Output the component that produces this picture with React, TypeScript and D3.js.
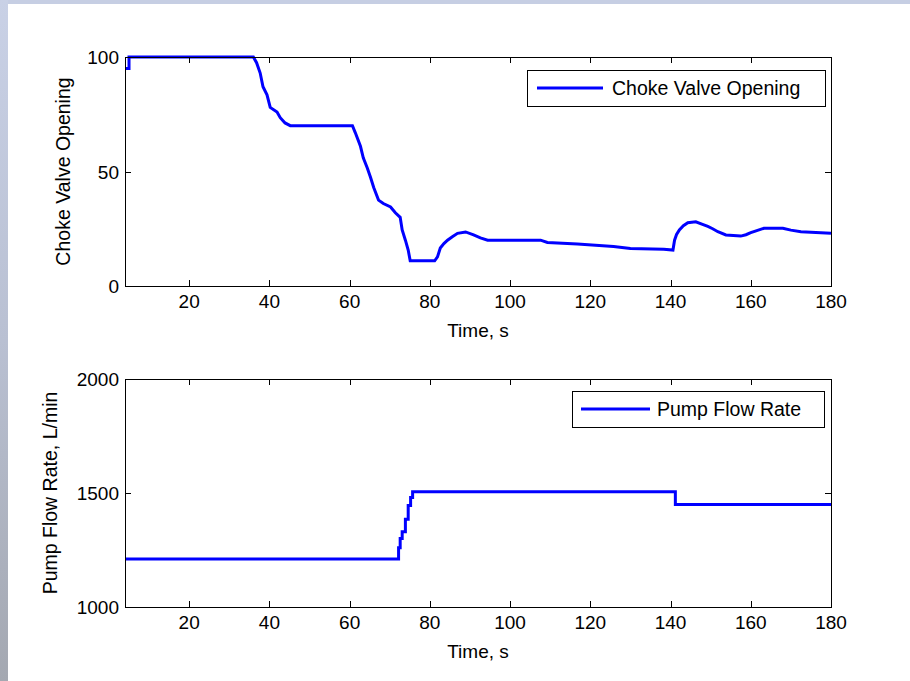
import React from "react";
import * as d3 from "d3";

// ---- Data ----
const chokeTime = [4, 5, 5, 36, 36.8, 37.7, 38.4, 39.4, 40.2, 41.9, 42.7, 43.9, 45.2, 60.7, 61.4, 62.7, 63.4, 64.4, 65.2, 66, 67.2, 68.4, 70.2, 71.4, 72.6, 73.1, 73.9, 74.6, 75.1, 81.2, 81.9, 82.6, 83.5, 84.4, 85.6, 86.9, 88.9, 90.9, 92.6, 94.4, 107.6, 109.3, 116.8, 125.8, 130, 138.3, 140.6, 141.0, 141.5, 142.2, 143.2, 144.3, 146.3, 147.8, 149.3, 150.5, 151.8, 153.8, 157.5, 158.8, 160, 161.5, 163.3, 168, 170, 172.5, 180];
const chokeValue = [95, 95, 100, 100, 97.5, 93, 87, 83.5, 78, 76, 73.5, 71.2, 70, 70, 67, 61, 56, 51.5, 47.5, 43, 37.5, 36, 34.5, 32, 30, 24.5, 20, 15.7, 11, 11, 12.7, 16.6, 18.5, 20, 21.5, 23, 23.6, 22.3, 21, 20, 20, 19, 18.3, 17.2, 16.4, 16, 15.7, 20, 22.5, 24.5, 26.3, 27.6, 28, 27, 26, 25, 23.7, 22.3, 21.8, 22.4, 23.3, 24.2, 25.2, 25.2, 24.4, 23.7, 23];

const pumpTime = [4, 72.2, 72.6, 73.1, 73.9, 74.6, 75.2, 75.7, 140.8, 141.2, 180];
const pumpValue = [1210, 1260, 1300, 1330, 1385, 1445, 1480, 1505, 1505, 1450, 1450];

const xTicks = [20, 40, 60, 80, 100, 120, 140, 160, 180];
const chokeTicks = [0, 50, 100];
const pumpTicks = [1000, 1500, 2000];

const xLabel = "Time, s";
const chokeLabel = "Choke Valve Opening";
const pumpLabel = "Pump Flow Rate, L/min";

const FONT = "'Liberation Sans', Arial, Helvetica, sans-serif";
const BLUE = "#0000ff";

type PanelProps = {
  top: number;
  bottom: number;
  times: number[];
  values: number[];
  stepped: boolean;
  yDomain: [number, number];
  yTicks: number[];
  yLabel: string;
  yLabelX: number;
  legend: string;
  legendBox: { x0: number; x1: number; y0: number; y1: number; lx0: number; lx1: number; tx: number };
};

const LEFT = 125;
const RIGHT = 831;

function Panel(p: PanelProps) {
  const x = d3.scaleLinear().domain([4, 180]).range([LEFT, RIGHT]);
  const y = d3.scaleLinear().domain(p.yDomain).range([p.bottom, p.top]);
  const pts: [number, number][] = p.times.map((t, i) => [t, p.values[i]]);
  const line = d3
    .line<[number, number]>()
    .x((d) => x(d[0]))
    .y((d) => y(d[1]))
    .curve(p.stepped ? d3.curveStepAfter : d3.curveLinear);
  const tl = 6;
  const lb = p.legendBox;
  const ly = (lb.y0 + lb.y1) / 2;
  return (
    <g>
      <rect x={LEFT} y={p.top} width={RIGHT - LEFT} height={p.bottom - p.top} fill="#fff" stroke="none" />
      <clipPath id={"clip" + p.top}>
        <rect x={LEFT} y={p.top - 3} width={RIGHT - LEFT} height={p.bottom - p.top + 6} />
      </clipPath>
      <path d={line(pts) || ""} fill="none" stroke={BLUE} strokeWidth={3} strokeLinejoin="miter" clipPath={`url(#clip${p.top})`} />
      <rect x={LEFT + 0.5} y={p.top + 0.5} width={RIGHT - LEFT} height={p.bottom - p.top} fill="none" stroke="#000" strokeWidth={1} />
      {xTicks.map((t) => (
        <g key={"x" + t}>
          <line x1={Math.round(x(t)) + 0.5} x2={Math.round(x(t)) + 0.5} y1={p.bottom} y2={p.bottom - tl} stroke="#000" />
          <line x1={Math.round(x(t)) + 0.5} x2={Math.round(x(t)) + 0.5} y1={p.top} y2={p.top + tl} stroke="#000" />
          <text x={x(t)} y={p.bottom + 22} textAnchor="middle" fontSize={19} fontFamily={FONT} fill="#000">
            {t}
          </text>
        </g>
      ))}
      {p.yTicks.map((v) => (
        <g key={"y" + v}>
          <line x1={LEFT} x2={LEFT + tl} y1={Math.round(y(v)) + 0.5} y2={Math.round(y(v)) + 0.5} stroke="#000" />
          <line x1={RIGHT} x2={RIGHT - tl} y1={Math.round(y(v)) + 0.5} y2={Math.round(y(v)) + 0.5} stroke="#000" />
          <text x={LEFT - 6} y={y(v) + 7} textAnchor="end" fontSize={19} fontFamily={FONT} fill="#000">
            {v}
          </text>
        </g>
      ))}
      <text x={(LEFT + RIGHT) / 2} y={p.bottom + 51} textAnchor="middle" fontSize={19} fontFamily={FONT} fill="#000">
        {xLabel}
      </text>
      <text
        transform={`translate(${p.yLabelX},${(p.top + p.bottom) / 2}) rotate(-90)`}
        textAnchor="middle"
        fontSize={19.5}
        fontFamily={FONT}
        fill="#000"
      >
        {p.yLabel}
      </text>
      <rect x={lb.x0 + 0.5} y={lb.y0 + 0.5} width={lb.x1 - lb.x0} height={lb.y1 - lb.y0} fill="#fff" stroke="#000" strokeWidth={1} />
      <line x1={lb.lx0} x2={lb.lx1} y1={ly} y2={ly} stroke={BLUE} strokeWidth={3} />
      <text x={lb.tx} y={ly + 7} fontSize={19.5} fontFamily={FONT} fill="#000">
        {p.legend}
      </text>
    </g>
  );
}

export default function App() {
  return (
    <svg width={910} height={681} style={{ position: "absolute", left: 0, top: 0 }}>
      <defs>
        <linearGradient id="leftband" x1="0" y1="0" x2="0" y2="1">
          <stop offset="0" stopColor="#c9d1e6" />
          <stop offset="0.5" stopColor="#b9c0d2" />
          <stop offset="1" stopColor="#a4a8b1" />
        </linearGradient>
      </defs>
      <rect x={0} y={0} width={910} height={681} fill="#ffffff" />
      <rect x={0} y={0} width={910} height={4} fill="#c6cee3" />
      <rect x={0} y={0} width={8} height={681} fill="url(#leftband)" />
      <Panel
        top={57}
        bottom={286}
        times={chokeTime}
        values={chokeValue}
        stepped={false}
        yDomain={[0, 100]}
        yTicks={chokeTicks}
        yLabel={chokeLabel}
        yLabelX={70}
        legend="Choke Valve Opening"
        legendBox={{ x0: 527, x1: 825, y0: 70, y1: 106, lx0: 537, lx1: 603, tx: 612 }}
      />
      <Panel
        top={379}
        bottom={607}
        times={pumpTime}
        values={pumpValue}
        stepped={true}
        yDomain={[1000, 2000]}
        yTicks={pumpTicks}
        yLabel={pumpLabel}
        yLabelX={57}
        legend="Pump Flow Rate"
        legendBox={{ x0: 572, x1: 824, y0: 391, y1: 427, lx0: 581, lx1: 650, tx: 657 }}
      />
    </svg>
  );
}
